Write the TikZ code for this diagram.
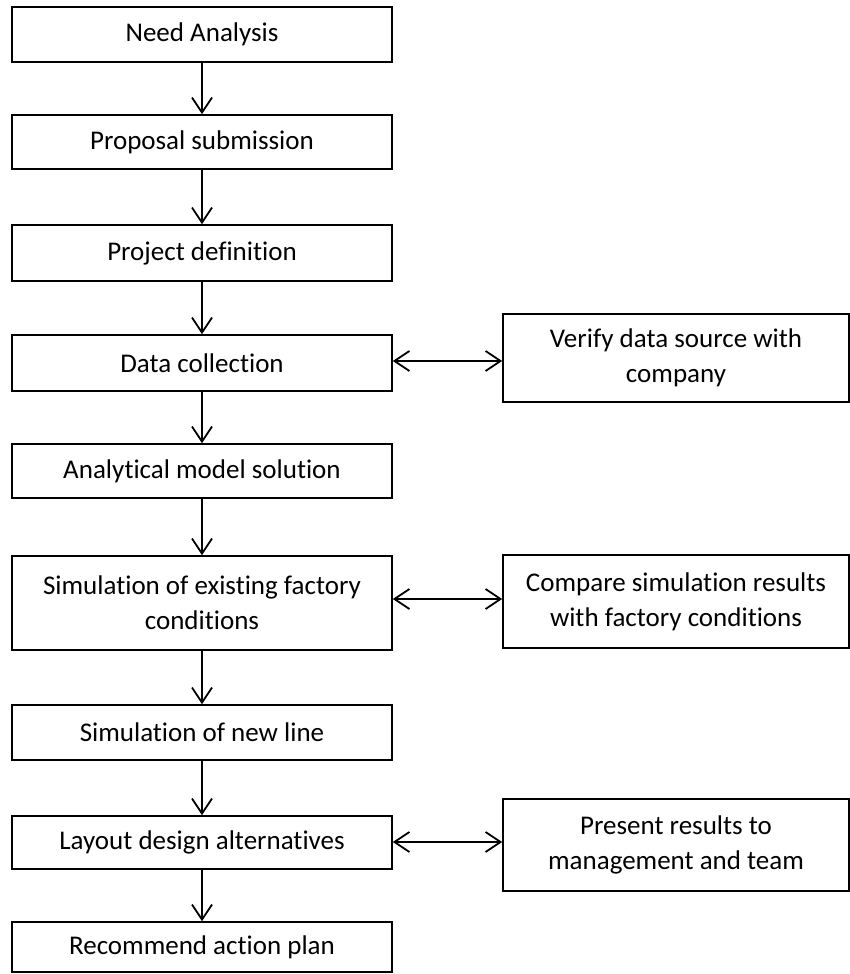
\documentclass[tikz,border=0pt]{standalone}
\usepackage{fontspec}
\setmainfont{Carlito}[Ligatures=NoCommon]
\usetikzlibrary{arrows.meta}

\tikzset{
  stepbox/.style={draw=black, line width=1.7pt, fill=white, align=center,
    inner sep=0pt, font=\fontsize{27}{35}\selectfont},
  leftbox/.style={stepbox, minimum width=380pt},
  rightbox/.style={stepbox, minimum width=346pt},
  flow/.style={line width=1.8pt,
    -{Straight Barb[length=15pt,width=20pt,line width=1.8pt]}},
  twoway/.style={line width=1.8pt,
    {Straight Barb[length=15pt,width=20pt,line width=1.8pt]}-{Straight Barb[length=15pt,width=20pt,line width=1.8pt]}}
}

\begin{document}
\begin{tikzpicture}[x=1pt,y=-1pt]
  \useasboundingbox (0,0) rectangle (850,974);

  % main sequence of steps
  \node[leftbox, minimum height=55pt] (need)    at (202,34.5) {Need Analysis};
  \node[leftbox, minimum height=54pt] (prop)    at (202,142)  {Proposal submission};
  \node[leftbox, minimum height=56pt] (proj)    at (202,253)  {Project definition};
  \node[leftbox, minimum height=56pt] (data)    at (202,363)  {Data collection};
  \node[leftbox, minimum height=54pt] (anal)    at (202,471)  {Analytical model solution};
  \node[leftbox, minimum height=94pt] (simex)   at (202,603)  {Simulation of existing factory\\conditions};
  \node[leftbox, minimum height=55pt] (simnew)  at (202,732.5){Simulation of new line};
  \node[leftbox, minimum height=53pt] (layout)  at (202,842.5){Layout design alternatives};
  \node[leftbox, minimum height=50pt] (recom)   at (202,947)  {Recommend action plan};

  % side activities
  \node[rightbox, minimum height=88pt] (verify)  at (676,358)   {Verify data source with\\company};
  \node[rightbox, minimum height=93pt] (compare) at (676,601.5) {Compare simulation results\\with factory conditions};
  \node[rightbox, minimum height=92pt] (present) at (676,845)   {Present results to\\management and team};

  % vertical flow
  \draw[flow] (need)   -- (prop);
  \draw[flow] (prop)   -- (proj);
  \draw[flow] (proj)   -- (data);
  \draw[flow] (data)   -- (anal);
  \draw[flow] (anal)   -- (simex);
  \draw[flow] (simex)  -- (simnew);
  \draw[flow] (simnew) -- (layout);
  \draw[flow] (layout) -- (recom);

  % two-way links to the side activities
  \draw[twoway] ([yshift=2pt]data.east)   -- ([yshift=2pt]data.east -| verify.west);
  \draw[twoway] ([yshift=4pt]simex.east)  -- ([yshift=4pt]simex.east -| compare.west);
  \draw[twoway] ([yshift=0.5pt]layout.east) -- ([yshift=0.5pt]layout.east -| present.west);
\end{tikzpicture}
\end{document}
